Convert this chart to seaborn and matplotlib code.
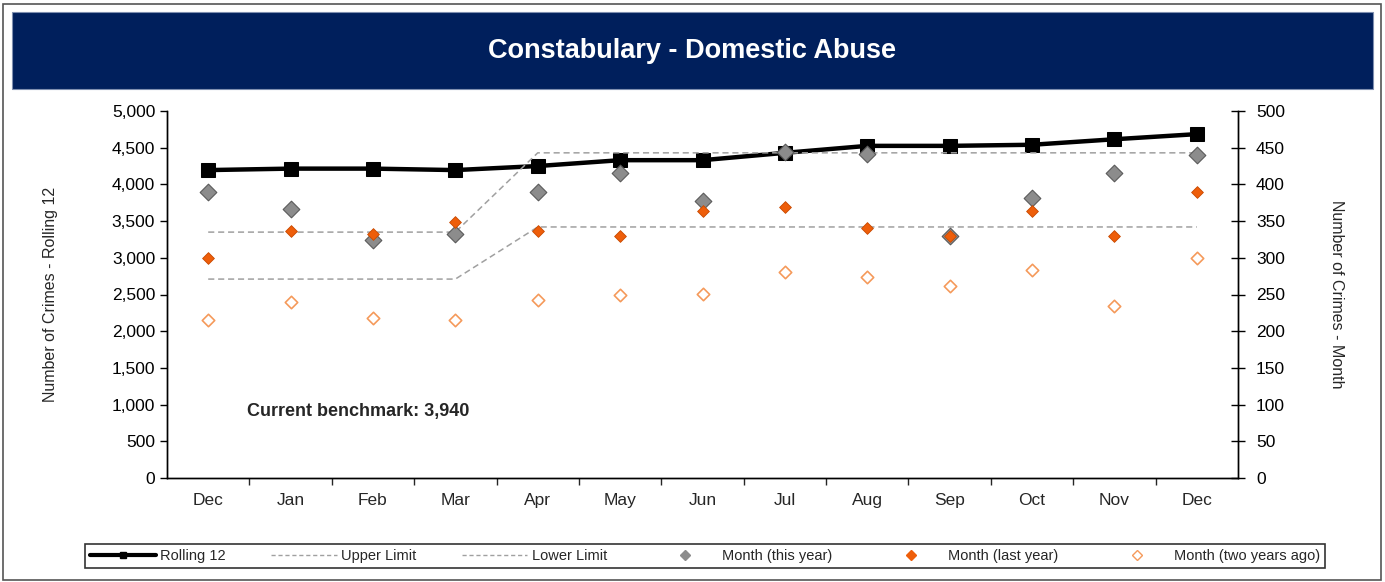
import matplotlib
matplotlib.use("Agg")
import matplotlib.pyplot as plt
import seaborn as sns
import pandas as pd
from matplotlib.lines import Line2D
from matplotlib.patches import Rectangle
from matplotlib.ticker import FuncFormatter, MultipleLocator, FixedLocator

# chart values
months = ["Dec", "Jan", "Feb", "Mar", "Apr", "May", "Jun",
          "Jul", "Aug", "Sep", "Oct", "Nov", "Dec"]
rolling_12 = [4195, 4215, 4215, 4195, 4250, 4330, 4330, 4430, 4525, 4525, 4540, 4615, 4685]
upper_limit = [335, 335, 335, 335, 443, 443, 443, 443, 443, 443, 443, 443, 443]
lower_limit = [271, 271, 271, 271, 342, 342, 342, 342, 342, 342, 342, 342, 342]
this_year = [389, 367, 324, 333, 389, 415, 377, 444, 441, 330, 382, 416, 440]
last_year = [300, 337, 332, 349, 337, 330, 364, 369, 340, 330, 364, 330, 389]
two_years_ago = [215, 240, 218, 215, 242, 249, 251, 281, 274, 262, 283, 234, 300]
benchmark = 3940

NAVY = "#001F5C"
GREY = "#8C8C8C"
ORANGE = "#EE5E0A"
LIGHT_ORANGE = "#F59A5B"

sns.set_style("white")
plt.rcParams["font.family"] = ["Liberation Sans", "DejaVu Sans"]

df = pd.DataFrame({
    "pos": range(len(months)),
    "month": months,
    "rolling": rolling_12,
    "upper": upper_limit,
    "lower": lower_limit,
    "this": this_year,
    "last": last_year,
    "two": two_years_ago,
})

fig = plt.figure(figsize=(13.85, 5.82), dpi=100)
ax = fig.add_axes([167 / 1385, 1 - 478 / 582, (1238 - 167) / 1385, (478 - 111) / 582])
ax2 = ax.twinx()

# outer frame and title bar
fig.patches.append(Rectangle((0.002, 0.003), 0.995, 0.99, transform=fig.transFigure,
                             fill=False, edgecolor="#555555", linewidth=1.2))
fig.patches.append(Rectangle((12 / 1385, 1 - 89 / 582), 1361 / 1385, 77 / 582,
                             transform=fig.transFigure, facecolor=NAVY,
                             edgecolor="#7f8fb0", linewidth=0.8))
fig.text(0.5, 1 - 51 / 582, "Constabulary - Domestic Abuse", color="white",
         fontsize=19.5, fontweight="bold", ha="center", va="center")

# rolling 12 on the left axis
sns.lineplot(data=df, x="pos", y="rolling", ax=ax, color="black", linewidth=3.2,
             marker="s", markersize=9.5, markeredgecolor="black", zorder=3)

# limits and monthly points on the right axis
sns.lineplot(data=df, x="pos", y="upper", ax=ax2, color="#A0A0A0",
             linewidth=1.1, linestyle=(0, (4, 2.5)), zorder=1)
sns.lineplot(data=df, x="pos", y="lower", ax=ax2, color="#A0A0A0",
             linewidth=1.1, linestyle=(0, (4, 2.5)), zorder=1)
sns.scatterplot(data=df, x="pos", y="this", ax=ax2, marker="D", s=72,
                color=GREY, edgecolor="#5a5a5a", linewidth=0.8, zorder=4)
sns.scatterplot(data=df, x="pos", y="last", ax=ax2, marker="D", s=36,
                color=ORANGE, edgecolor="#C84A00", linewidth=0.6, zorder=5)
sns.scatterplot(data=df, x="pos", y="two", ax=ax2, marker="D", s=40,
                facecolor="white", edgecolor=LIGHT_ORANGE, linewidth=1.2, zorder=5)

ax.set_xlim(-0.5, len(months) - 0.5)
ax.set_ylim(0, 5000)
ax2.set_ylim(0, 500)
ax.yaxis.set_major_locator(MultipleLocator(500))
ax2.yaxis.set_major_locator(MultipleLocator(50))
ax.yaxis.set_major_formatter(FuncFormatter(lambda v, p: f"{int(v):,}"))
ax.set_xticks(df["pos"])
ax.set_xticklabels(months)
ax.xaxis.set_minor_locator(FixedLocator([p + 0.5 for p in range(len(months) - 1)]))

for a in (ax, ax2):
    a.set_xlabel("")
    a.spines["top"].set_visible(False)
    for s in ("left", "right", "bottom"):
        a.spines[s].set_color("black")
        a.spines[s].set_linewidth(1.0)
ax.tick_params(axis="y", direction="out", length=5, width=1, labelsize=12.5, colors="black", left=True)
ax2.tick_params(axis="y", direction="inout", length=10, width=1, labelsize=12.5, colors="black",
                right=True, pad=8)
ax.tick_params(axis="x", which="major", length=0, labelsize=12.5, pad=11)
ax.tick_params(axis="x", which="minor", direction="out", length=5, width=1, bottom=True)

ax.set_ylabel("Number of Crimes - Rolling 12", fontsize=11.5, labelpad=39)
ax2.set_ylabel("Number of Crimes - Month", fontsize=11.5, rotation=270, labelpad=42)

ax.text(0.47, 900, f"Current benchmark: {benchmark:,}", fontsize=13,
        fontweight="bold", ha="left", va="center")

handles = [
    Line2D([], [], color="black", linewidth=3, marker="s", markersize=4),
    Line2D([], [], color="#A0A0A0", linewidth=1, linestyle=(0, (3, 2))),
    Line2D([], [], color="#A0A0A0", linewidth=1, linestyle=(0, (3, 2))),
    Line2D([], [], linestyle="none", marker="D", markersize=5, color=GREY),
    Line2D([], [], linestyle="none", marker="D", markersize=5, color=ORANGE),
    Line2D([], [], linestyle="none", marker="D", markersize=5,
           markerfacecolor="white", markeredgecolor=LIGHT_ORANGE),
]
labels = ["Rolling 12", "Upper Limit", "Lower Limit", "Month (this year)",
          "Month (last year)", "Month (two years ago)"]
leg = fig.legend(handles, labels, loc="lower left", mode="expand",
                 bbox_to_anchor=(85 / 1385, 1 - 568 / 582, 1240 / 1385, 28 / 582),
                 ncol=6, fontsize=10.5, frameon=True, fancybox=False,
                 handlelength=4.5, handletextpad=0.3, borderpad=0.35, borderaxespad=0)
leg.get_frame().set_edgecolor("black")
leg.get_frame().set_linewidth(1.2)

fig.savefig("out.png", dpi=100)
